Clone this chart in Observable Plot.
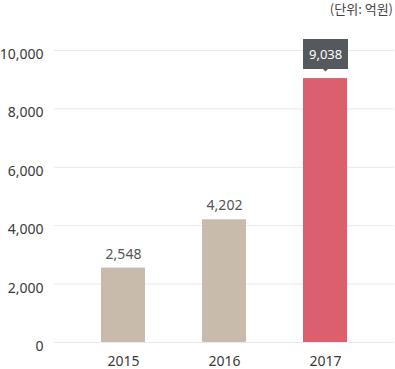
<!DOCTYPE html>
<html>
<head>
<meta charset="utf-8">
<script src="https://cdn.jsdelivr.net/npm/d3@7"></script>
<script src="https://cdn.jsdelivr.net/npm/@observablehq/plot@0.6"></script>
<style>
  html, body { margin: 0; padding: 0; background: #fff; }
  #wrap { width: 395px; font-family: "Noto Sans", "Noto Sans CJK KR", sans-serif; }
  #unit { height: 18px; line-height: 18px; font-size: 13px; color: #444; text-align: right; padding-right: 2px; font-family: "Noto Sans CJK KR", "Noto Sans", sans-serif; }
  g[aria-label="tip"] { color: #fff; }
  g[aria-label="tip"] text { fill: #fff; }
</style>
</head>
<body>
<div id="wrap">
  <div id="unit">(단위: 억원)</div>
  <div id="chart"></div>
</div>
<script>
const years = ["2015", "2016", "2017"];
const values = [2548, 4202, 9038];
const barColors = ["#c8bbab", "#c8bbab", "#db5f6c"];
const yTicks = [0, 2000, 4000, 6000, 8000, 10000];

const data = years.map((year, i) => ({year, value: values[i], color: barColors[i]}));
const fmt = d3.format(",");

const chart = Plot.plot({
  width: 395,
  height: 351,
  marginLeft: 54,
  marginRight: 1,
  marginTop: 32,
  marginBottom: 27,
  style: {fontFamily: '"Noto Sans", sans-serif', fontSize: "14px", color: "#3a3a3a", background: "#fff"},
  x: {domain: years, paddingInner: 0.564, paddingOuter: 0.465, label: null},
  y: {domain: [0, 10000], label: null},
  marks: [
    Plot.ruleY(yTicks, {stroke: "#e9e9e9", strokeWidth: 1}),
    Plot.axisY({ticks: yTicks, tickFormat: fmt, tickSize: 0, tickPadding: 11, dy: 4, fontSize: 14, label: null}),
    Plot.axisX({tickSize: 0, tickPadding: 14, fontSize: 14, label: null}),
    Plot.barY(data, {x: "year", y: "value", fill: "color"}),
    Plot.text(data.slice(0, 2), {x: "year", y: "value", text: d => fmt(d.value), dy: -14, fill: "#555", fontSize: 14}),
    Plot.tip(data.slice(2), {
      x: "year", y: "value", title: d => fmt(d.value),
      anchor: "bottom", dy: -7, fill: "#55585d", stroke: "none",
      fontSize: 13, textPadding: 6, pointerSize: 5, pathFilter: "none"
    })
  ]
});
document.getElementById("chart").appendChild(chart);
</script>
</body>
</html>
